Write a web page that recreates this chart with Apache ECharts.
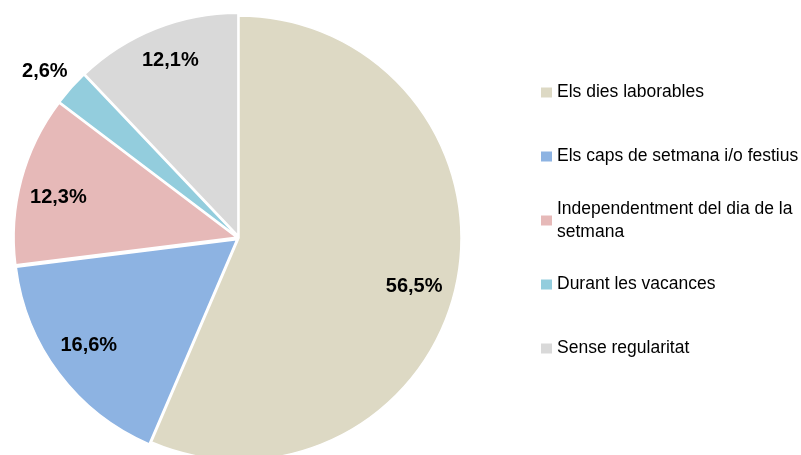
<!DOCTYPE html>
<html>
<head>
<meta charset="utf-8">
<script src="https://cdn.jsdelivr.net/npm/echarts@6/dist/echarts.min.js"></script>
<style>
  html, body { margin: 0; padding: 0; background: #fff; }
  #chart { width: 801px; height: 455px; }
</style>
</head>
<body>
<div id="chart"></div>
<script>
// dades del gràfic
const categories = [
  'Els dies laborables',
  'Els caps de setmana i/o festius',
  'Independentment del dia de la setmana',
  'Durant les vacances',
  'Sense regularitat'
]
const values = [56.5, 16.6, 12.3, 2.6, 12.1]
const colors = ['#DDD9C4', '#8DB3E2', '#E6B9B8', '#93CDDD', '#D9D9D9']
const exploded = [false, true, true, true, true]
const outsideLabel = [false, false, false, true, false]
// text de la llegenda (amb salt de línia)
const legendLabels = [
  'Els dies laborables',
  'Els caps de setmana i/o festius',
  'Independentment del dia de la\nsetmana',
  'Durant les vacances',
  'Sense regularitat'
]

const labelFont = "'Liberation Sans', Arial, sans-serif"
const legendFont = "'Liberation Sans', Arial, sans-serif"

// petits ajustos de posició de les etiquetes (px)
const labelNudge = [[-9, 11], [0, -6], [1, 8], [11, -8], [1, -3]]

function fmt(v) {
  return v.toFixed(1).replace('.', ',') + '%'
}

const chart = echarts.init(document.getElementById('chart'))

const pieData = categories.map((name, i) => ({
  name,
  value: values[i],
  selected: exploded[i],
  itemStyle: { color: colors[i] },
  select: { itemStyle: { color: colors[i], borderColor: '#fff', borderWidth: 1.5 } }
}))

// sèrie transparent només per col·locar les etiquetes
const labelData = categories.map((name, i) => ({
  name,
  value: values[i],
  label: outsideLabel[i]
    ? { position: 'outside' }
    : { position: 'inside' },
  labelLine: { show: false, length: 18, length2: 0 }
}))

const legends = categories.map((name, i) => {
  const twoLines = legendLabels[i].indexOf('\n') >= 0
  return {
    orient: 'vertical',
    left: 541,
    top: 81 + i * 64 - (twoLines ? 23 : 0),
    padding: 0,
    itemWidth: 11,
    itemHeight: 10,
    selectedMode: false,
    icon: 'rect',
    itemStyle: { borderWidth: 0 },
    formatter: () => legendLabels[i],
    textStyle: {
      fontFamily: legendFont,
      fontSize: 17.5,
      lineHeight: 23,
      color: '#000',
      padding: twoLines ? [23, 0, 0, 0] : 0
    },
    data: [name]
  }
})

chart.setOption({
  animation: false,
  legend: legends,
  series: [
    {
      type: 'pie',
      center: [239, 238],
      radius: 222,
      startAngle: 90,
      clockwise: true,
      selectedMode: 'multiple',
      selectedOffset: 3,
      label: { show: false },
      labelLine: { show: false },
      emphasis: { disabled: true },
      itemStyle: { borderColor: '#fff', borderWidth: 1.5 },
      data: pieData
    },
    {
      type: 'pie',
      center: [239, 238],
      radius: [150, 220],
      startAngle: 90,
      clockwise: true,
      silent: true,
      avoidLabelOverlap: false,
      itemStyle: { color: 'rgba(0,0,0,0)', borderWidth: 0 },
      emphasis: { disabled: true },
      label: {
        show: true,
        formatter: p => fmt(p.value),
        fontFamily: labelFont,
        fontWeight: 'bold',
        fontSize: 20,
        color: '#000'
      },
      labelLayout: p => ({ dx: labelNudge[p.dataIndex][0], dy: labelNudge[p.dataIndex][1] }),
      data: labelData
    }
  ]
})
</script>
</body>
</html>
